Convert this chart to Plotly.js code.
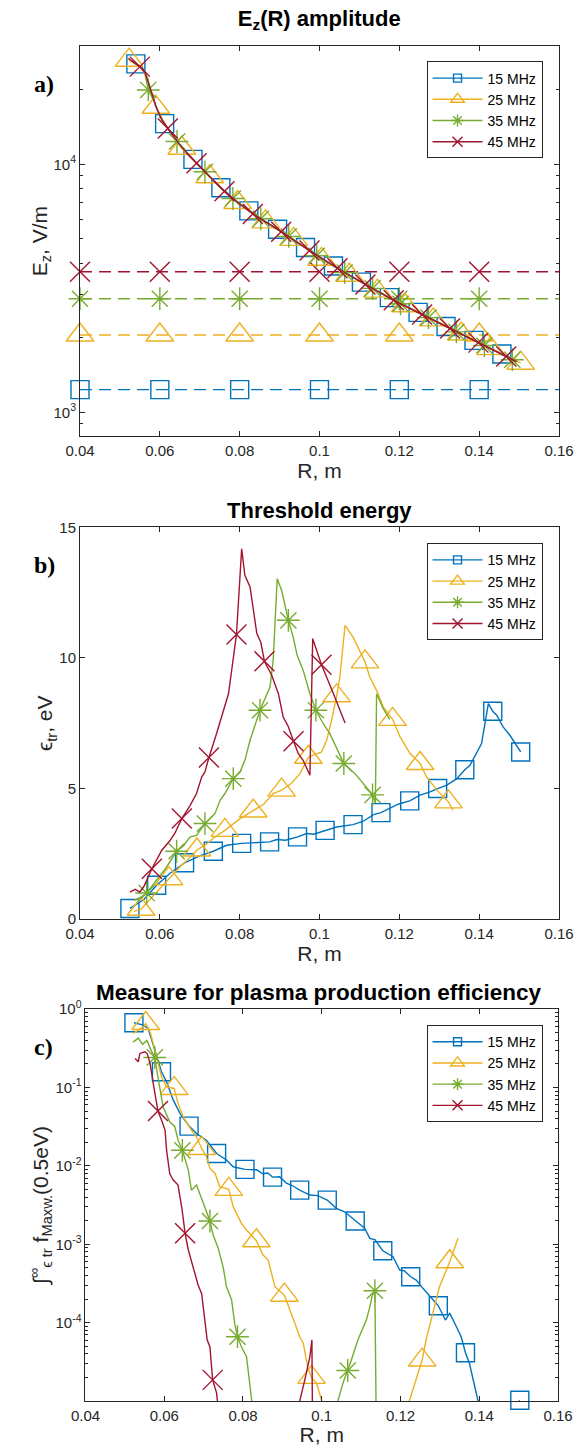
<!DOCTYPE html>
<html><head><meta charset="utf-8">
<script src="https://cdn.plot.ly/plotly-3.0.1.min.js"></script>
<style>html,body{margin:0;padding:0;background:#fff}#chart{width:582px;height:1446px}</style>
</head><body><div id="chart"></div>
<script>
// ---------- data ----------
const seriesNames = ['15 MHz', '25 MHz', '35 MHz', '45 MHz'];
const xTickVals = [0.04, 0.06, 0.08, 0.1, 0.12, 0.14, 0.16];
const xTickText = ['0.04', '0.06', '0.08', '0.1', '0.12', '0.14', '0.16'];

// (a) E_z(R) amplitude, V/m
const aBlueX = [0.0528,0.0540,0.0556,0.0566,0.0578,0.0590,0.0600,0.0612,0.0646,0.0683,0.0725,0.0753,0.0790,0.0823,0.0895,0.0965,0.1035,0.1105,0.1175,0.1247,0.1317,0.1387,0.1457,0.1494];
const aBlueY = [26180,25410,24550,22910,19720,17180,15560,14590,12160,10470,8910,8040,7130,6490,5470,4620,3890,3350,2900,2530,2220,1950,1718,1603];
const aBlueMarks = [1,7,9,11,13,14,15,16,17,18,19,20,21,22];
const aYellowX = [0.0523,0.0550,0.0566,0.0578,0.0590,0.0617,0.0655,0.0692,0.0725,0.0760,0.0795,0.0865,0.0935,0.1005,0.1075,0.1145,0.1215,0.1285,0.1355,0.1429,0.1504];
const aYellowY = [26300,24770,22910,19720,16980,14190,11610,10090,8910,7830,7015,5860,4980,4140,3570,3080,2690,2360,2070,1807,1578];
const aYellowMarks = [0,4,6,8,10,11,12,13,14,15,16,17,18,19,20];
const aGreenX = [0.0527,0.0550,0.0562,0.0571,0.0584,0.0600,0.0617,0.0643,0.0680,0.0713,0.0750,0.0783,0.0853,0.0923,0.0993,0.1063,0.1133,0.1203,0.1273,0.1343,0.1413,0.1483,0.1495];
const aGreenY = [26180,24770,23440,19950,18160,15560,14190,12360,10590,9330,8130,7280,6030,5120,4280,3660,3160,2740,2410,2110,1860,1630,1600];
const aGreenMarks = [3,7,9,11,12,13,14,15,16,17,18,19,20,21];
const aRedX = [0.0521,0.0537,0.0550,0.0563,0.0575,0.0590,0.0605,0.0620,0.0655,0.0692,0.0725,0.0762,0.0800,0.0833,0.0904,0.0975,0.1045,0.1115,0.1186,0.1257,0.1327,0.1398,0.1468,0.1494];
const aRedY = [26730,25700,24770,23440,20560,17180,15140,13960,11700,10090,8910,7780,6920,6310,5350,4490,3810,3280,2830,2480,2180,1910,1680,1600];
const aRedMarks = [2,7,9,11,13,14,15,16,17,18,19,20,21,22];
// dashed threshold levels (V/m), one per frequency
const aDashX = [0.04, 0.06, 0.08, 0.10, 0.12, 0.14, 0.16];
const aDashLevels = [1235, 2050, 2870, 3690];
const aDashMarks = [0,1,2,3,4,5];
const aYTickVals = [1000, 10000];
const aYTickText = ['10<sup>3</sup>', '10<sup>4</sup>'];

// (b) threshold energy, eV
const bBlueX = [0.0525,0.0560,0.0592,0.0625,0.0662,0.0700,0.0734,0.0767,0.0805,0.0843,0.0875,0.0893,0.0915,0.0945,0.0968,0.0985,0.1014,0.1043,0.1084,0.1110,0.1135,0.1154,0.1197,0.1226,0.1252,0.1277,0.1296,0.1319,0.1344,0.1364,0.1377,0.1393,0.1406,0.1423,0.1434,0.1444,0.1460,0.1477,0.1490,0.1504];
const bBlueY = [0.41,0.75,1.30,1.75,2.16,2.42,2.60,2.83,2.90,2.92,2.96,3.05,3.02,3.15,3.28,3.25,3.40,3.53,3.62,3.75,4.00,4.08,4.40,4.53,4.75,4.87,5.00,5.13,5.38,5.72,5.89,6.34,6.72,8.25,7.96,7.81,7.36,7.04,6.72,6.40];
const bBlueMarks = [0,2,4,6,8,10,13,16,18,21,23,26,29,34,39];
const bYellowX = [0.0535,0.0553,0.0575,0.0600,0.0623,0.0650,0.0675,0.0693,0.0715,0.0734,0.0763,0.0801,0.0834,0.0860,0.0884,0.0905,0.0930,0.0951,0.0972,0.1005,0.1018,0.1030,0.1043,0.1051,0.1064,0.1084,0.1114,0.1126,0.1143,0.1160,0.1183,0.1202,0.1227,0.1252,0.1268,0.1294,0.1323,0.1335];
const bYellowY = [0.30,0.38,0.75,1.15,1.55,2.00,2.35,2.65,2.85,3.10,3.40,3.85,4.14,4.40,4.81,4.94,5.20,5.57,6.20,6.40,6.85,7.60,8.55,9.27,11.25,10.80,9.85,9.27,8.76,8.12,7.65,6.98,6.34,5.96,5.45,4.94,4.49,4.17];
const bYellowMarks = [1,4,7,10,12,15,18,22,26,30,33,36];
const bGreenX = [0.0535,0.0550,0.0567,0.0590,0.0615,0.0642,0.0659,0.0676,0.0692,0.0713,0.0738,0.0751,0.0763,0.0784,0.0801,0.0813,0.0826,0.0851,0.0876,0.0884,0.0894,0.0905,0.0922,0.0934,0.0944,0.0959,0.0976,0.0991,0.1009,0.1026,0.1035,0.1048,0.1061,0.1089,0.1110,0.1133,0.1140,0.1143,0.1160,0.1176];
const bGreenY = [0.72,0.82,1.00,1.45,1.95,2.60,2.80,3.15,3.21,3.66,4.04,4.55,4.81,5.38,5.64,6.08,6.85,8.00,8.89,9.91,13.03,12.59,11.44,10.80,10.10,9.53,8.63,8.00,7.49,7.10,6.79,6.34,5.96,5.57,5.19,4.76,4.45,8.63,8.05,7.65];
const bGreenMarks = [2,5,9,13,17,22,27,32,35];
const bRedX = [0.0525,0.0538,0.0550,0.0560,0.0580,0.0592,0.0605,0.0625,0.0638,0.0655,0.0676,0.0692,0.0705,0.0713,0.0723,0.0742,0.0759,0.0772,0.0780,0.0792,0.0805,0.0813,0.0826,0.0843,0.0853,0.0862,0.0880,0.0897,0.0909,0.0921,0.0935,0.0947,0.0959,0.0976,0.0983,0.1005,0.1035,0.1064];
const bRedY = [1.04,1.14,1.04,1.25,1.93,2.26,2.64,3.00,3.30,3.85,4.36,4.81,5.45,5.64,6.19,7.10,8.00,8.63,9.53,10.90,14.18,13.16,12.72,10.93,10.60,9.87,9.35,8.63,7.74,7.40,6.81,6.34,6.08,5.51,10.74,9.74,8.63,7.51];
const bRedMarks = [4,9,14,19,25,30,35];
const bYTickVals = [0, 5, 10, 15];

// (c) integral of Maxwellian above threshold
const cBlueX = [0.0523,0.0545,0.0559,0.0568,0.0581,0.0593,0.0606,0.0623,0.0640,0.0663,0.0682,0.0707,0.0733,0.0758,0.0775,0.0805,0.0835,0.0850,0.0863,0.0875,0.0893,0.0910,0.0925,0.0944,0.0970,0.0990,0.1014,0.1037,0.1058,0.1085,0.1109,0.1122,0.1135,0.1155,0.1181,0.1198,0.1210,0.1226,0.1240,0.1257,0.1282,0.1296,0.1314,0.1325,0.1342,0.1354,0.1365,0.1375,0.1397,0.1420,0.1503];
const cBlueY = [0.670,0.631,0.568,0.403,0.235,0.159,0.118,0.0690,0.0468,0.0322,0.0259,0.0213,0.0144,0.0119,0.00975,0.00902,0.00891,0.00794,0.00813,0.00719,0.00726,0.00603,0.00562,0.00491,0.00425,0.00417,0.00366,0.00287,0.00260,0.00198,0.00160,0.00119,0.00115,0.000826,0.000693,0.000469,0.000457,0.000385,0.000349,0.000274,0.000194,0.000164,0.000108,0.000132,0.0000887,0.0000661,0.0000413,0.0000303,0.0000100,0.0000032,0.0000102];
const cBlueMarks = [0,5,9,12,15,19,23,26,29,33,37,41,46,50];
const cYellowX = [0.0521,0.0547,0.0553,0.0564,0.0572,0.0581,0.0593,0.0606,0.0625,0.0635,0.0648,0.0669,0.0682,0.0695,0.0707,0.0716,0.0729,0.0741,0.0764,0.0775,0.0796,0.0809,0.0834,0.0851,0.0864,0.0881,0.0905,0.0927,0.0944,0.0953,0.0965,0.0974,0.0987,0.1000,0.1010,0.1100,0.1215,0.1223,0.1240,0.1255,0.1265,0.1282,0.1299,0.1325,0.1346];
const cYellowY = [0.490,0.594,0.656,0.513,0.365,0.235,0.137,0.102,0.0973,0.0627,0.0424,0.0286,0.0235,0.0167,0.0131,0.00929,0.00802,0.00542,0.00501,0.00302,0.00185,0.00152,0.00111,0.000728,0.000628,0.000287,0.000224,0.000114,0.0000661,0.0000545,0.0000261,0.0000200,0.0000168,0.0000100,0.0000025,0.0000001,0.0000050,0.0000102,0.0000186,0.0000333,0.0000603,0.000132,0.000288,0.000598,0.00119];
const cYellowMarks = [2,8,13,18,22,26,31,39,43];
const cGreenX = [0.0521,0.0534,0.0545,0.0556,0.0566,0.0576,0.0581,0.0589,0.0597,0.0614,0.0627,0.0635,0.0646,0.0661,0.0669,0.0682,0.0703,0.0716,0.0724,0.0737,0.0750,0.0758,0.0771,0.0779,0.0786,0.0796,0.0809,0.0817,0.0822,0.0830,0.0950,0.1035,0.1041,0.1054,0.1066,0.1075,0.1092,0.1113,0.1122,0.1128,0.1135,0.1139];
const cGreenY = [0.380,0.427,0.355,0.398,0.302,0.242,0.167,0.0927,0.0568,0.0366,0.0316,0.0213,0.0158,0.00891,0.00490,0.00569,0.00288,0.00198,0.00132,0.000891,0.000501,0.000288,0.000195,0.0000977,0.0000661,0.0000493,0.0000367,0.0000170,0.0000102,0.0000032,0.0000001,0.0000040,0.0000100,0.0000170,0.0000245,0.0000331,0.0000603,0.000107,0.000158,0.000219,0.000255,0.0000025];
const cGreenMarks = [5,12,17,24,34,40];
const cRedX = [0.0526,0.0534,0.0538,0.0551,0.0557,0.0564,0.0572,0.0578,0.0584,0.0593,0.0602,0.0606,0.0614,0.0623,0.0635,0.0645,0.0653,0.0661,0.0673,0.0686,0.0695,0.0703,0.0709,0.0716,0.0723,0.0733,0.0735,0.0740,0.0850,0.0940,0.0944,0.0957,0.0970,0.0975,0.0977];
const cRedY = [0.235,0.213,0.272,0.286,0.269,0.203,0.113,0.0708,0.0501,0.0384,0.0286,0.0158,0.00794,0.00661,0.00569,0.00282,0.00138,0.000851,0.000513,0.000302,0.000234,0.000107,0.0000603,0.0000490,0.0000186,0.0000126,0.0000100,0.0000032,0.0000001,0.0000050,0.0000100,0.0000186,0.0000372,0.0000603,0.0000025];
const cRedMarks = [8,16,24];
const cYTickVals = [0.0001, 0.001, 0.01, 0.1, 1];
const cYTickText = ['10<sup>-4</sup>', '10<sup>-3</sup>', '10<sup>-2</sup>', '10<sup>-1</sup>', '10<sup>0</sup>'];

// ---------- styles ----------
const COLORS = ['#0072BD', '#EDB120', '#77AC30', '#A2142F'];
const SYMBOLS = ['square-open', 'triangle-up-open', 'asterisk-open', 'x-thin-open'];
const MSIZE = [18, 24, 19, 20];
const LSIZE = [8, 12, 10, 10];
const LW = 1.4;
const FONT = '"Liberation Sans", Arial, Helvetica, sans-serif';
const AX = '#262626';

const W = 582, H = 1446, ML = 80, MR = 22.5, MT = 45.5, MB = 45;
const PW = W - ML - MR, PH = H - MT - MB;
const fx = v => (v - ML) / PW;
const fy = v => (H - MB - v) / PH;

const traces = [];
function addSeries(xs, ys, marks, k, xa, ya, dash) {
  traces.push({type: 'scatter', mode: 'lines', x: xs, y: ys, xaxis: xa, yaxis: ya,
    line: {color: COLORS[k], width: LW, dash: dash || 'solid'}, showlegend: false, hoverinfo: 'skip'});
  traces.push({type: 'scatter', mode: 'markers', x: marks.map(i => xs[i]), y: marks.map(i => ys[i]),
    xaxis: xa, yaxis: ya, cliponaxis: false, showlegend: false, hoverinfo: 'skip',
    marker: {symbol: SYMBOLS[k], size: MSIZE[k], color: COLORS[k], line: {color: COLORS[k], width: LW}}});
}
function addLegend(k, xa, ya, leg) {
  traces.push({type: 'scatter', mode: 'lines+markers', x: [null], y: [null], xaxis: xa, yaxis: ya,
    name: seriesNames[k], legend: leg, line: {color: COLORS[k], width: LW},
    marker: {symbol: SYMBOLS[k], size: LSIZE[k], color: COLORS[k], line: {color: COLORS[k], width: LW}}});
}

// (a)
aDashLevels.forEach((lvl, k) => addSeries(aDashX, aDashX.map(() => lvl), aDashMarks, k, 'x', 'y', '12px,7px'));
[[aBlueX, aBlueY, aBlueMarks], [aYellowX, aYellowY, aYellowMarks], [aGreenX, aGreenY, aGreenMarks], [aRedX, aRedY, aRedMarks]]
  .forEach((s, k) => addSeries(s[0], s[1], s[2], k, 'x', 'y'));
// (b)
[[bBlueX, bBlueY, bBlueMarks], [bYellowX, bYellowY, bYellowMarks], [bGreenX, bGreenY, bGreenMarks], [bRedX, bRedY, bRedMarks]]
  .forEach((s, k) => addSeries(s[0], s[1], s[2], k, 'x2', 'y2'));
// (c)
[[cBlueX, cBlueY, cBlueMarks], [cYellowX, cYellowY, cYellowMarks], [cGreenX, cGreenY, cGreenMarks], [cRedX, cRedY, cRedMarks]]
  .forEach((s, k) => addSeries(s[0], s[1], s[2], k, 'x3', 'y3'));
for (let k = 0; k < 4; k++) addLegend(k, 'x', 'y', 'legend');
for (let k = 0; k < 4; k++) addLegend(k, 'x2', 'y2', 'legend2');
for (let k = 0; k < 4; k++) addLegend(k, 'x3', 'y3', 'legend3');

const tickFont = {family: FONT, size: 15, color: AX};
const titleFont = {family: FONT, size: 21, color: AX};
function xAxis(domain, anchor) {
  return {domain, anchor, range: [0.04, 0.16], tickmode: 'array', tickvals: xTickVals, ticktext: xTickText,
    ticks: 'inside', ticklen: 5, tickwidth: 1, tickcolor: AX, showline: true, linecolor: AX, linewidth: 1,
    mirror: 'ticks', showgrid: false, zeroline: false, tickfont: tickFont, automargin: false,
    ticklabelstandoff: 1,
    title: {text: 'R, m', font: titleFont, standoff: 2}};
}
function decadeMinor(lo, hi) {
  const v = [];
  for (let e = lo; e < hi; e++) for (let d = 2; d <= 9; d++) v.push(d * Math.pow(10, e));
  return v;
}
function yAxis(domain, anchor, extra) {
  return Object.assign({domain, anchor, ticks: 'inside', ticklen: 5, tickwidth: 1, tickcolor: AX,
    showline: true, linecolor: AX, linewidth: 1, mirror: 'ticks', showgrid: false, zeroline: false,
    tickfont: tickFont, automargin: false}, extra);
}

const legendBase = {xanchor: 'right', yanchor: 'top', bgcolor: '#ffffff', bordercolor: AX, borderwidth: 1,
  font: {family: FONT, size: 14, color: '#000'}, itemwidth: 50, tracegroupgap: 0};

const layout = {
  width: W, height: H, margin: {l: ML, r: MR, t: MT, b: MB}, paper_bgcolor: '#fff', plot_bgcolor: '#fff',
  showlegend: true,
  title: {text: '<b>E<sub>z</sub>(R) amplitude</b>', font: {family: FONT, size: 22, color: '#000'},
    x: fx(319.5), xref: 'paper', xanchor: 'center', y: 1 - 18 / H, yref: 'container', yanchor: 'middle'},
  xaxis: xAxis([0, 1], 'y'),
  xaxis2: xAxis([0, 1], 'y2'),
  xaxis3: xAxis([fx(85.5), fx(558.5)], 'y3'),
  yaxis: yAxis([fy(436), fy(45.5)], 'x', {type: 'log', range: [Math.log10(800), Math.log10(30000)],
    tickmode: 'array', tickvals: aYTickVals, ticktext: aYTickText,
    minor: {tickmode: 'array', tickvals: [900].concat(decadeMinor(3, 5)), ticks: 'inside', ticklen: 3, tickcolor: AX, showgrid: false},
    title: {text: 'E<sub>z</sub>, V/m', font: titleFont, standoff: 0}}),
  yaxis2: yAxis([fy(919), fy(527)], 'x2', {range: [0, 15], tickmode: 'array', tickvals: bYTickVals,
    title: {text: 'ϵ<sub>tr</sub>, eV', font: titleFont, standoff: 0}}),
  yaxis3: yAxis([fy(1401), fy(1009)], 'x3', {type: 'log', range: [-5, 0],
    tickmode: 'array', tickvals: cYTickVals, ticktext: cYTickText,
    minor: {tickmode: 'array', tickvals: decadeMinor(-5, 0), ticks: 'inside', ticklen: 3, tickcolor: AX, showgrid: false},
    title: {text: '∫<sup>∞</sup><sub>ϵ tr</sub> f<sub>Maxw.</sub>(0.5eV)', font: titleFont, standoff: 0}}),
  legend: Object.assign({x: fx(543), y: fy(61)}, legendBase),
  legend2: Object.assign({x: fx(543), y: fy(543)}, legendBase),
  legend3: Object.assign({x: fx(543), y: fy(1025)}, legendBase),
  annotations: [
    {text: '<b>Threshold energy</b>', xref: 'paper', yref: 'paper', x: fx(319.5), y: fy(510), xanchor: 'center', yanchor: 'middle',
      showarrow: false, font: {family: FONT, size: 22, color: '#000'}},
    {text: '<b>Measure for plasma production efficiency</b>', xref: 'paper', yref: 'paper', x: fx(319), y: fy(992), xanchor: 'center', yanchor: 'middle',
      showarrow: false, font: {family: FONT, size: 22.5, color: '#000'}},
    {text: '<b>a)</b>', xref: 'paper', yref: 'paper', x: fx(44), y: fy(84), xanchor: 'center', yanchor: 'middle', showarrow: false,
      font: {family: '"Liberation Serif", "Times New Roman", serif', size: 24, color: '#000'}},
    {text: '<b>b)</b>', xref: 'paper', yref: 'paper', x: fx(44), y: fy(565), xanchor: 'center', yanchor: 'middle', showarrow: false,
      font: {family: '"Liberation Serif", "Times New Roman", serif', size: 24, color: '#000'}},
    {text: '<b>c)</b>', xref: 'paper', yref: 'paper', x: fx(43), y: fy(1047), xanchor: 'center', yanchor: 'middle', showarrow: false,
      font: {family: '"Liberation Serif", "Times New Roman", serif', size: 24, color: '#000'}}
  ]
};

Plotly.newPlot('chart', traces, layout, {staticPlot: true, displayModeBar: false});
</script></body></html>
